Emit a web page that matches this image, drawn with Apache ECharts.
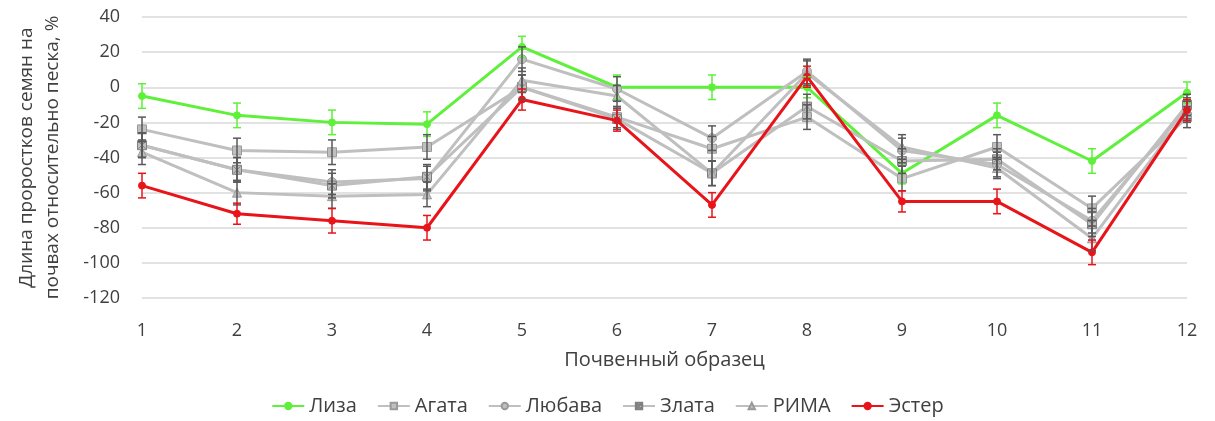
<!DOCTYPE html>
<html><head><meta charset="utf-8">
<script src="https://cdn.jsdelivr.net/npm/echarts@6/dist/echarts.min.js"></script>
<style>html,body{margin:0;padding:0;background:#fff}#c{width:1215px;height:421px}</style>
</head><body><div id="c"></div>
<script>
const categories = ['1','2','3','4','5','6','7','8','9','10','11','12'];
const yTicks = [-120,-100,-80,-60,-40,-20,0,20,40];
const seriesNames = ['Лиза','Агата','Любава','Злата','РИМА','Эстер'];
const liza    = [-5, -16, -20, -21, 23, 0, 0, 0, -49, -16, -42, -3];
const agata   = [-24, -36, -37, -34, 0, -17, -35, -17, -52, -34, -69, -17];
const lyubava = [-33, -47, -54, -52, 16, -1, -29, 9, -36, -44, -76, -12];
const zlata   = [-33, -47, -56, -51, 0, -18, -49, -11, -42, -41, -78, -10];
const rima    = [-37, -60, -62, -61, 4, -5, -49, 8, -34, -46, -86, -14];
const ester   = [-56, -72, -76, -80, -7, -19, -67, 6, -65, -65, -94, -13];
const lizaErr    = [7, 7, 7, 7, 6, 7, 7, 6, 6, 7, 7, 6];
const agataErr   = [7, 7, 7, 7, 7, 6, 7, 7, 7, 7, 7, 6];
const lyubavaErr = [7, 7, 7, 7, 7, 7, 7, 7, 7, 7, 7, 6];
const zlataErr   = [7, 7, 7, 7, 7, 6, 7, 7, 7, 6, 7, 6];
const rimaErr    = [7, 7, 7, 7, 7, 6, 7, 7, 7, 6, 7, 6];
const esterErr   = [7, 6, 7, 7, 6, 6, 7, 6, 6, 7, 7, 6];

const GRAY = '#bfbfbf', GRAYB = '#9a9a9a', GREEN = '#5ef03a', RED = '#e8141a';
const FONT = '"Open Sans", "Noto Sans", sans-serif';
const crossSq = 'path://M0,0H10V10H0Z M1,1L9,9 M9,1L1,9';

function errSeries(vals, errs, color, z) {
  return {
    type: 'custom', silent: true, z: z,
    data: vals.map((v, i) => [i, v - errs[i], v + errs[i]]),
    renderItem: function (params, api) {
      const x = api.value(0);
      const lo = api.coord([x, api.value(1)]);
      const hi = api.coord([x, api.value(2)]);
      const w = 4;
      const st = { stroke: color, lineWidth: 1.5 };
      return { type: 'group', children: [
        { type: 'line', shape: { x1: lo[0], y1: lo[1], x2: hi[0], y2: hi[1] }, style: st },
        { type: 'line', shape: { x1: lo[0]-w, y1: lo[1], x2: lo[0]+w, y2: lo[1] }, style: st },
        { type: 'line', shape: { x1: hi[0]-w, y1: hi[1], x2: hi[0]+w, y2: hi[1] }, style: st }
      ]};
    }
  };
}
function lineSeries(name, data, color, symbol, size, border, z) {
  return {
    name: name, type: 'line', data: data, symbol: symbol, symbolSize: size, z: z,
    lineStyle: { color: color, width: 3 },
    itemStyle: { color: color, borderColor: border, borderWidth: 1 },
    emphasis: { disabled: true }
  };
}
const chart = echarts.init(document.getElementById('c'));
chart.setOption({
  animation: false,
  textStyle: { fontFamily: FONT },
  grid: { left: 142, right: 28, top: 17, bottom: 123, containLabel: false, outerBoundsMode: 'none' },
  xAxis: {
    type: 'category', data: categories, boundaryGap: false,
    name: 'Почвенный образец', nameLocation: 'middle', nameGap: 52,
    nameTextStyle: { fontSize: 20, color: '#404040', fontFamily: FONT },
    axisLine: { show: false }, axisTick: { show: false },
    axisLabel: { fontSize: 18, color: '#404040', margin: 24, fontFamily: FONT },
    splitLine: { show: false }
  },
  yAxis: {
    type: 'value', min: yTicks[0], max: yTicks[yTicks.length-1], interval: 20,
    name: 'Длина проростков семян на\nпочвах относительно песка, %',
    nameLocation: 'middle', nameGap: 76, nameRotate: 90,
    nameTextStyle: { fontSize: 19, color: '#404040', lineHeight: 26, fontFamily: FONT },
    axisLine: { show: false }, axisTick: { show: false },
    axisLabel: { fontSize: 18, color: '#404040', margin: 22, fontFamily: FONT },
    splitLine: { lineStyle: { color: '#d9d9d9', width: 1.5 } }
  },
  legend: {
    bottom: 0, left: 'center', itemWidth: 32, itemHeight: 8, itemGap: 20,
    textStyle: { fontSize: 20, color: '#404040', fontFamily: FONT },
    data: seriesNames
  },
  series: [
    lineSeries('Лиза', liza, GREEN, 'circle', 7, GREEN, 3),
    lineSeries('Агата', agata, GRAY, 'rect', 9, GRAYB, 3),
    lineSeries('Любава', lyubava, GRAY, 'circle', 9, GRAYB, 3),
    lineSeries('Злата', zlata, GRAY, crossSq, 9, '#808080', 3),
    lineSeries('РИМА', rima, GRAY, 'triangle', 9, GRAYB, 3),
    lineSeries('Эстер', ester, RED, 'circle', 7, RED, 4),
    errSeries(liza, lizaErr, GREEN, 5),
    errSeries(agata, agataErr, '#595959', 5),
    errSeries(lyubava, lyubavaErr, '#595959', 5),
    errSeries(zlata, zlataErr, '#595959', 5),
    errSeries(rima, rimaErr, '#595959', 5),
    errSeries(ester, esterErr, RED, 6)
  ]
});
</script></body></html>
